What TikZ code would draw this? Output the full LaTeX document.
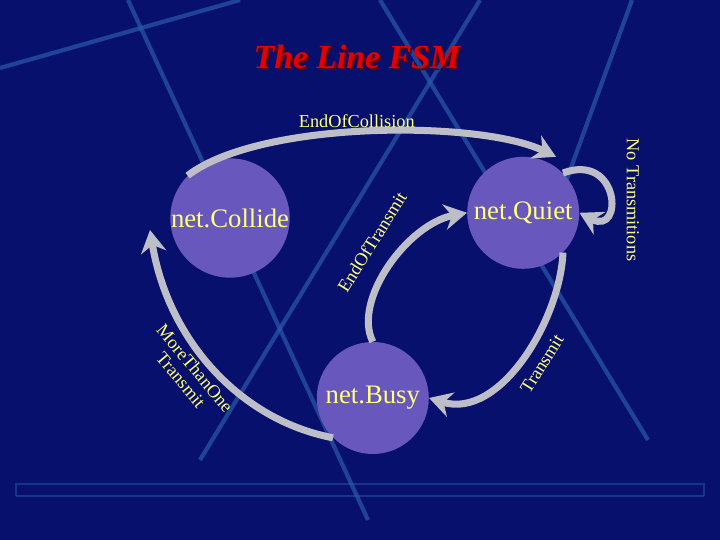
\documentclass[tikz,border=0pt]{standalone}
\usepackage{fontspec}
\setmainfont{Liberation Serif}
\usetikzlibrary{arrows.meta,positioning}
\definecolor{bgnavy}{RGB}{8,16,110}
\definecolor{streak}{RGB}{40,90,170}
\definecolor{statefill}{RGB}{104,88,190}
\definecolor{labelyellow}{RGB}{255,255,120}
\definecolor{flowgray}{RGB}{190,190,200}
\tikzset{
    state/.style={circle, fill=statefill, minimum size=2.8cm, inner sep=0pt,
                  text=labelyellow, font=\fontsize{19}{19}\selectfont},
    flow/.style={line width=5pt, flowgray, -{Stealth[length=16pt,width=18pt]}},
    tag/.style={text=labelyellow, font=\fontsize{13}{13}\selectfont, align=center}
}
\begin{document}
\begin{tikzpicture}
    % background
    \fill[bgnavy] (0,0) rectangle (18,13.5);
    \useasboundingbox (0,0) rectangle (18,13.5);
    \draw[streak, line width=3pt, opacity=0.7] (3.2,13.5) -- (9.2,0.5);
    \draw[streak, line width=3pt, opacity=0.7] (5.0,2.0) -- (12.0,13.5);
    \draw[streak, line width=3pt, opacity=0.7] (9.5,13.5) -- (16.2,2.5);
    \draw[streak, line width=3pt, opacity=0.7] (15.8,13.5) -- (13.8,8.0);
    \draw[streak, line width=3pt, opacity=0.7] (0,11.8) -- (6.0,13.5);
    \draw[streak, line width=2pt, opacity=0.5] (0.4,1.1) -- (17.6,1.1);
    \draw[streak, line width=2pt, opacity=0.5] (0.4,1.1) -- (0.4,1.4) -- (17.6,1.4) -- (17.6,1.1);

    % title
    \node[text=black!60!red, font=\fontsize{24}{24}\bfseries\itshape\selectfont] at (8.97,12.02) {The Line FSM};
    \node (title) [text=red!90!black, font=\fontsize{24}{24}\bfseries\itshape\selectfont] at (8.92,12.07) {The Line FSM};

    % states
    \node[state] (collide) at (5.75,8.05) {net.Collide};
    \node[state] (quiet) at (13.08,8.18) {net.Quiet};
    \node[state] (busy) at (9.32,3.55) {net.Busy};
    \coordinate (collin) at (3.75,7.75);
    \coordinate (quietin) at (13.9,9.58);

    % transitions
    \draw[flow] (collide.north west) .. controls (6.5,10.5) and (12,10.5) .. (quietin);
    \draw[flow] (quiet.north east) .. controls (15.5,9.7) and (15.6,7.6) .. (quiet.east);
    \draw[flow] (busy.north) .. controls (8.8,6.0) and (10.2,7.9) .. (quiet.west);
    \draw[flow] (quiet.south east) .. controls (14.0,5.5) and (12.5,3.0) .. (busy.east);
    \draw[flow] (busy.south west) .. controls (6.0,3.0) and (4.2,5.0) .. (collin);

    % labels
    \node[tag] (lcoll) at (8.92,10.48) {EndOfCollision};
    \node[tag, rotate=-90] (lnone) at (15.82,8.5) {No Transmitions};
    \node[tag, rotate=58] (lend) at (9.3,7.45) {EndOfTransmit};
    \node[tag, rotate=58] (ltx) at (13.55,4.4) {Transmit};
    \node[tag, rotate=-50] (lmore) at (4.7,4.15) {MoreThanOne\\Transmit};
\end{tikzpicture}
\end{document}
